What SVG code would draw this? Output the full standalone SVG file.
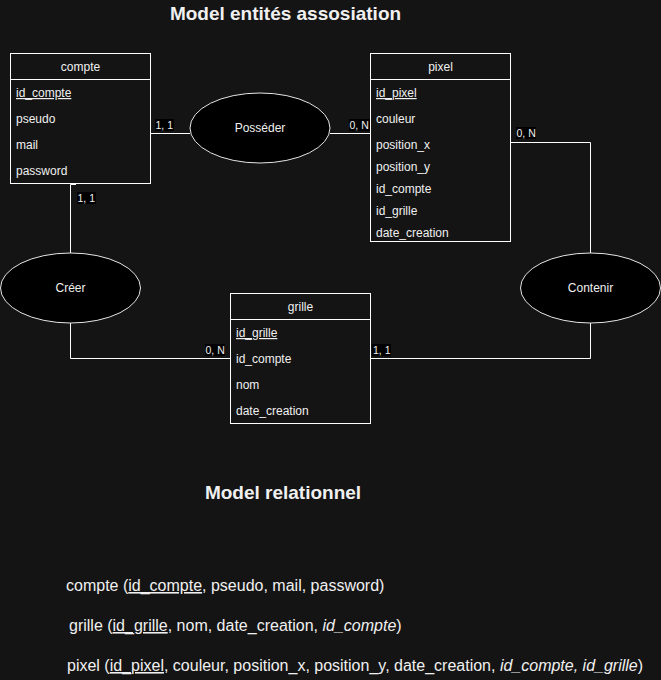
<svg xmlns="http://www.w3.org/2000/svg" width="661" height="680" viewBox="0 0 661 680">
<style>
text{font-family:"Liberation Sans",Arial,sans-serif;fill:#f0f0f0}
.t{font-size:12px}
.c{text-anchor:middle}
.box{fill:none;stroke:#ffffff;stroke-width:1}
.ell{fill:#000000;stroke:#e6e6e6;stroke-width:1}
.ln{fill:none;stroke:#ffffff;stroke-width:1}
.lbl{font-size:10.5px}
.lb{fill:#000000}
.u{text-decoration:underline}
.h{font-size:19px;font-weight:bold;text-anchor:middle}
.r{font-size:16px}
.i{font-style:italic}
</style>
<rect width="661" height="680" fill="#141414"/>
<text class="h" x="285.5" y="19.5">Model entités assosiation</text>
<text class="h" x="283" y="499">Model relationnel</text>

<g id="connectors">
<path class="ln" d="M150.5 133.5H190"/>
<path class="ln" d="M330 133.5H370.5"/>
<path class="ln" d="M510.5 142.5H590.5V253"/>
<path class="ln" d="M590.5 323V358.5H370.5"/>
<path class="ln" d="M76 184.5H70.5V253"/>
<path class="ln" d="M70.5 323V358.5H230.5"/>
<rect class="lb" x="155" y="119" width="19" height="12"/>
<text class="lbl" x="155.5" y="129">1, 1</text>
<rect class="lb" x="349" y="119" width="21" height="12"/>
<text class="lbl" x="349.5" y="129">0, N</text>
<rect class="lb" x="516" y="127" width="20" height="12"/>
<text class="lbl" x="516.5" y="137">0, N</text>
<rect class="lb" x="372" y="344" width="19" height="12"/>
<text class="lbl" x="373" y="354">1, 1</text>
<rect class="lb" x="77" y="192" width="19" height="12"/>
<text class="lbl" x="77.5" y="202">1, 1</text>
<rect class="lb" x="205" y="344" width="20" height="12"/>
<text class="lbl" x="205.5" y="354">0, N</text>
</g>

<g id="compte">
<rect class="box" x="10.5" y="53.5" width="140" height="130"/>
<path class="ln" d="M10.5 79.5H150.5"/>
<text class="t c" x="80.5" y="70.5">compte</text>
<text class="t u" x="16" y="97">id_compte</text>
<text class="t" x="16" y="123">pseudo</text>
<text class="t" x="16" y="149">mail</text>
<text class="t" x="16" y="174.5">password</text>
</g>

<g id="pixel">
<rect class="box" x="370.5" y="53.5" width="140" height="188"/>
<path class="ln" d="M370.5 79.5H510.5"/>
<text class="t c" x="440.5" y="70.5">pixel</text>
<text class="t u" x="376" y="97">id_pixel</text>
<text class="t" x="376" y="123">couleur</text>
<text class="t" x="376" y="149">position_x</text>
<text class="t" x="376" y="171">position_y</text>
<text class="t" x="376" y="192.5">id_compte</text>
<text class="t" x="376" y="215">id_grille</text>
<text class="t" x="376" y="237">date_creation</text>
</g>

<g id="grille">
<rect class="box" x="230.5" y="293.5" width="140" height="130"/>
<path class="ln" d="M230.5 319.5H370.5"/>
<text class="t c" x="300.5" y="310.5">grille</text>
<text class="t u" x="236" y="337">id_grille</text>
<text class="t" x="236" y="363">id_compte</text>
<text class="t" x="236" y="389">nom</text>
<text class="t" x="236" y="414.5">date_creation</text>
</g>

<g id="posseder">
<ellipse class="ell" cx="260" cy="128" rx="70" ry="35"/>
<text class="t c" x="260" y="132">Posséder</text>
</g>
<g id="creer">
<ellipse class="ell" cx="70.5" cy="288" rx="70" ry="35"/>
<text class="t c" x="70.5" y="292">Créer</text>
</g>
<g id="contenir">
<ellipse class="ell" cx="590.5" cy="288" rx="70" ry="35"/>
<text class="t c" x="590.5" y="292">Contenir</text>
</g>

<g id="relationnel">
<text class="r" x="66" y="591">compte (<tspan class="u">id_compte</tspan>, pseudo, mail, password)</text>
<text class="r" x="69" y="631">grille (<tspan class="u">id_grille</tspan>, nom, date_creation, <tspan class="i">id_compte</tspan>)</text>
<text class="r" x="67" y="671">pixel (<tspan class="u">id_pixel</tspan>, couleur, position_x, position_y, date_creation, <tspan class="i">id_compte, id_grille</tspan>)</text>
</g>
</svg>
